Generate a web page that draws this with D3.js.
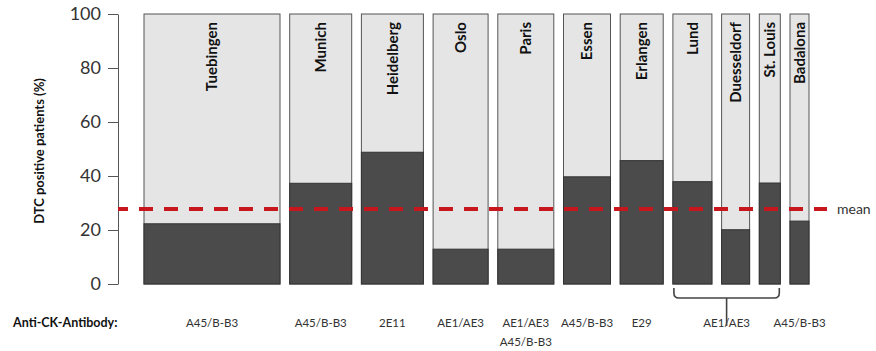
<!DOCTYPE html>
<html>
<head>
<meta charset="utf-8">
<script src="https://cdn.jsdelivr.net/npm/d3@7"></script>
<style>
  html, body { margin: 0; padding: 0; background: #fff; }
  svg { display: block; }
  text { font-family: Lato, "Open Sans", sans-serif; }
</style>
</head>
<body>
<svg id="chart" width="876" height="351"></svg>
<script>
// Study centres, share of DTC-positive patients (%) and relative cohort size (bar width)
const centers = ["Tuebingen", "Munich", "Heidelberg", "Oslo", "Paris", "Essen", "Erlangen", "Lund", "Duesseldorf", "St. Louis", "Badalona"];
const positiveRate = [22.3, 37.3, 48.8, 12.9, 12.9, 39.7, 45.7, 37.9, 20.1, 37.4, 23.3];
const cohortSize = [136, 62, 62, 55, 56, 47, 43, 39, 28, 21, 19];
const meanRate = 27.8;

// Antibody used for detection, with the first and last centre it applies to
const antibodyLabels = [["A45/B-B3"], ["A45/B-B3"], ["2E11"], ["AE1/AE3"], ["AE1/AE3", "A45/B-B3"], ["A45/B-B3"], ["E29"], ["AE1/AE3"], ["A45/B-B3"]];
const antibodyFirst = [0, 1, 2, 3, 4, 5, 6, 7, 10];
const antibodyLast = [0, 1, 2, 3, 4, 5, 6, 9, 10];

const yTicks = [0, 20, 40, 60, 80, 100];

const svg = d3.select("#chart");
const plotLeft = 144, plotRight = 809, gap = 9.7;
const axisX = 118;

const y = d3.scaleLinear().domain([0, 100]).range([284, 14]);

// cumulative cohort positions -> horizontal layout with a fixed gap between bars
const total = d3.sum(cohortSize);
const w = d3.scaleLinear().domain([0, total])
  .range([0, plotRight - plotLeft - gap * (centers.length - 1)]);
const starts = [];
let acc = 0;
cohortSize.forEach((n, i) => { starts.push(plotLeft + w(acc) + i * gap); acc += n; });
const bars = centers.map((c, i) => ({
  name: c, rate: positiveRate[i], x0: starts[i], x1: starts[i] + w(cohortSize[i])
}));

// y axis
const yAxis = svg.append("g")
  .attr("transform", `translate(${axisX},0)`)
  .call(d3.axisLeft(y).tickValues(yTicks).tickSize(10).tickSizeOuter(0).tickPadding(7));
yAxis.select(".domain").attr("stroke", "#555").attr("stroke-width", 1);
yAxis.selectAll(".tick line").attr("stroke", "#555");
yAxis.selectAll(".tick text")
  .attr("font-size", 18).attr("fill", "#333")
  .style("font-family", "Lato, 'Open Sans', sans-serif");

svg.append("text")
  .attr("transform", `translate(44,${(y(0) + y(100)) / 2 + 2}) rotate(-90)`)
  .attr("text-anchor", "middle")
  .attr("font-size", 13).attr("font-weight", "bold").attr("fill", "#111")
  .text("DTC positive patients (%)");

// bars: full-height light background with the positive share in dark grey
const g = svg.append("g");
g.selectAll("rect.bg").data(bars).join("rect")
  .attr("class", "bg")
  .attr("x", d => d.x0).attr("y", y(100))
  .attr("width", d => d.x1 - d.x0).attr("height", y(0) - y(100))
  .attr("fill", "#e5e5e5").attr("stroke", "#555").attr("stroke-width", 1);
g.selectAll("rect.pos").data(bars).join("rect")
  .attr("class", "pos")
  .attr("x", d => d.x0).attr("y", d => y(d.rate))
  .attr("width", d => d.x1 - d.x0).attr("height", d => y(0) - y(d.rate))
  .attr("fill", "#4b4b4b").attr("stroke", "#333").attr("stroke-width", 1);

g.selectAll("text.name").data(bars).join("text")
  .attr("class", "name")
  .attr("transform", d => `translate(${(d.x0 + d.x1) / 2},22) rotate(-90)`)
  .attr("dy", "0.36em")
  .attr("text-anchor", "end")
  .attr("font-size", 15).attr("font-weight", "bold").attr("fill", "#111")
  .text(d => d.name);

// mean line
svg.append("line")
  .attr("x1", axisX).attr("x2", 827)
  .attr("y1", y(meanRate)).attr("y2", y(meanRate))
  .attr("stroke", "#c8161d").attr("stroke-width", 4)
  .attr("stroke-dasharray", "14,11").attr("stroke-dashoffset", 4);
svg.append("text")
  .attr("x", 837).attr("y", y(meanRate)).attr("dy", "0.35em")
  .attr("font-size", 14).attr("fill", "#333")
  .text("mean");

// antibody row
svg.append("text")
  .attr("x", 13).attr("y", 323).attr("dy", "0.35em")
  .attr("font-size", 12.5).attr("font-weight", "bold").attr("fill", "#111")
  .text("Anti-CK-Antibody:");

antibodyLabels.forEach((lines, k) => {
  const a = bars[antibodyFirst[k]], b = bars[antibodyLast[k]];
  const cx = (a.x0 + b.x1) / 2;
  const t = svg.append("text")
    .attr("text-anchor", "middle").attr("font-size", 11.5).attr("fill", "#333");
  lines.forEach((line, j) => {
    t.append("tspan").attr("x", cx).attr("y", 323 + j * 19).attr("dy", "0.35em").text(line);
  });
  // bracket joining several centres that share one antibody
  if (antibodyLast[k] > antibodyFirst[k]) {
    const top = 288, mid = 298, r = 5;
    const p = d3.path();
    p.moveTo(a.x0 + 1, top);
    p.lineTo(a.x0 + 1, mid - r);
    p.quadraticCurveTo(a.x0 + 1, mid, a.x0 + 1 + r, mid);
    p.lineTo(b.x1 - 1 - r, mid);
    p.quadraticCurveTo(b.x1 - 1, mid, b.x1 - 1, mid - r);
    p.lineTo(b.x1 - 1, top);
    p.moveTo(cx, mid);
    p.lineTo(cx, 326);
    svg.append("path").attr("d", p.toString())
      .attr("fill", "none").attr("stroke", "#444").attr("stroke-width", 1.6);
  }
});
</script>
</body>
</html>
